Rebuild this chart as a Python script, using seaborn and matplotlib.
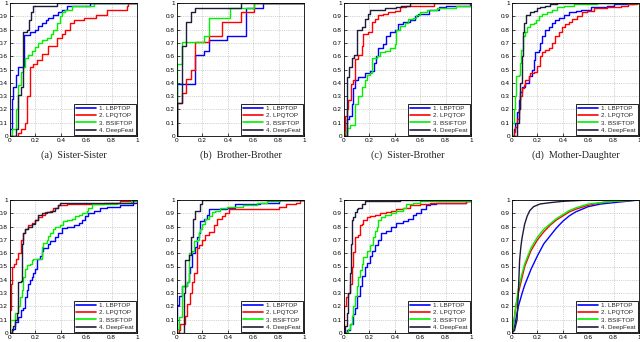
import matplotlib
matplotlib.use("Agg")
import matplotlib.pyplot as plt
import seaborn as sns
from matplotlib.ticker import FuncFormatter

# ---------------- data (FPR, TPR corner points of each ROC curve) ----------------
METHODS = ["1. LBPTOP", "2. LPQTOP", "3. BSIFTOP", "4. DeepFeat"]
COLORS = ["#0000ff", "#ff0000", "#00f000", "#1c1c3c"]
CAPTIONS = ["(a)  Sister-Sister", "(b)  Brother-Brother", "(c)  Sister-Brother", "(d)  Mother-Daughter",
            "", "", "", ""]

# Panel 1
P1_LBP_X = [0, 0, 0.013, 0.026, 0.045, 0.066, 0.11, 0.16, 0.2, 0.22, 0.25, 0.28, 0.30, 0.34, 0.38, 0.41, 0.45, 0.63, 1]
P1_LBP_Y = [0, 0.05, 0.28, 0.37, 0.46, 0.52, 0.76, 0.78, 0.80, 0.83, 0.85, 0.87, 0.89, 0.91, 0.93, 0.95, 0.98, 1.0, 1]
P1_LPQ_X = [0, 0.066, 0.09, 0.12, 0.13, 0.155, 0.18, 0.21, 0.25, 0.30, 0.37, 0.41, 0.43, 0.47, 0.50, 0.58, 0.68, 0.76, 0.92, 0.93, 1]
P1_LPQ_Y = [0, 0.02, 0.05, 0.10, 0.30, 0.52, 0.54, 0.57, 0.62, 0.68, 0.74, 0.77, 0.80, 0.85, 0.87, 0.89, 0.91, 0.95, 0.98, 1.0, 1]
P1_BSIF_X = [0, 0.013, 0.045, 0.066, 0.084, 0.105, 0.118, 0.145, 0.17, 0.2, 0.22, 0.25, 0.29, 0.32, 0.34, 0.37, 0.395, 0.41, 0.43, 0.49, 0.66, 1]
P1_BSIF_Y = [0, 0.05, 0.2, 0.38, 0.48, 0.52, 0.59, 0.61, 0.64, 0.67, 0.70, 0.72, 0.74, 0.77, 0.80, 0.85, 0.90, 0.93, 0.95, 0.98, 1.0, 1]
P1_DEEP_X = [0, 0.05, 0.06, 0.09, 0.105, 0.13, 0.15, 0.165, 0.18, 0.37, 1]
P1_DEEP_Y = [0, 0.05, 0.31, 0.37, 0.78, 0.80, 0.87, 0.93, 0.98, 1.0, 1]

# Panel 2
P2_LBP_X = [0, 0, 0.144, 0.21, 0.25, 0.39, 0.54, 0.68, 1]
P2_LBP_Y = [0, 0.39, 0.61, 0.64, 0.72, 0.75, 0.96, 1.0, 1]
P2_LPQ_X = [0, 0, 0.04, 0.073, 0.11, 0.144, 0.25, 0.353, 0.5, 0.61, 1]
P2_LPQ_Y = [0, 0.25, 0.32, 0.43, 0.5, 0.71, 0.75, 0.86, 0.93, 1.0, 1]
P2_BSIF_X = [0, 0, 0.04, 0.21, 0.25, 0.42, 0.61, 1]
P2_BSIF_Y = [0, 0.54, 0.71, 0.75, 0.89, 0.96, 1.0, 1]
P2_DEEP_X = [0, 0, 0.04, 0.073, 0.11, 0.144, 0.50, 1]
P2_DEEP_Y = [0, 0.25, 0.68, 0.86, 0.93, 0.96, 1.0, 1]

# Panel 3
P3_LBP_X = [0, 0.026, 0.042, 0.06, 0.073, 0.086, 0.112, 0.164, 0.204, 0.235, 0.25, 0.27, 0.31, 0.334, 0.36, 0.40, 0.425, 0.465, 0.52, 0.556, 0.58, 0.67, 0.75, 0.80, 0.99, 1]
P3_LBP_Y = [0, 0.13, 0.15, 0.24, 0.36, 0.42, 0.44, 0.47, 0.49, 0.55, 0.60, 0.66, 0.69, 0.75, 0.78, 0.80, 0.84, 0.86, 0.87, 0.90, 0.92, 0.95, 0.97, 0.98, 0.99, 1]
P3_LPQ_X = [0, 0.008, 0.021, 0.034, 0.052, 0.073, 0.086, 0.11, 0.138, 0.15, 0.19, 0.217, 0.243, 0.27, 0.31, 0.347, 0.40, 0.44, 0.49, 0.71, 1]
P3_LPQ_Y = [0, 0.15, 0.2, 0.27, 0.39, 0.42, 0.58, 0.61, 0.68, 0.77, 0.78, 0.86, 0.88, 0.91, 0.92, 0.93, 0.94, 0.97, 0.98, 1.0, 1]
P3_BSIF_X = [0, 0, 0.021, 0.047, 0.086, 0.112, 0.138, 0.164, 0.178, 0.204, 0.217, 0.256, 0.28, 0.32, 0.36, 0.40, 0.41, 0.44, 0.48, 0.50, 0.54, 0.57, 0.60, 0.65, 0.73, 0.88, 1]
P3_BSIF_Y = [0, 0.03, 0.06, 0.08, 0.24, 0.30, 0.37, 0.42, 0.46, 0.47, 0.59, 0.60, 0.63, 0.64, 0.66, 0.69, 0.80, 0.83, 0.85, 0.88, 0.89, 0.91, 0.93, 0.95, 0.96, 0.98, 1]
P3_DEEP_X = [0, 0.026, 0.042, 0.06, 0.078, 0.104, 0.138, 0.164, 0.19, 0.204, 0.32, 0.41, 0.45, 0.52, 1]
P3_DEEP_Y = [0, 0.44, 0.52, 0.59, 0.61, 0.80, 0.82, 0.88, 0.92, 0.95, 0.96, 0.97, 0.98, 1.0, 1]

# Panel 4
P4_LBP_X = [0, 0.013, 0.026, 0.04, 0.053, 0.066, 0.079, 0.105, 0.13, 0.158, 0.171, 0.184, 0.21, 0.224, 0.237, 0.263, 0.29, 0.316, 0.34, 0.368, 0.41, 0.447, 0.50, 0.54, 0.62, 0.75, 0.80, 0.96, 1]
P4_LBP_Y = [0, 0.05, 0.10, 0.18, 0.27, 0.33, 0.37, 0.40, 0.45, 0.50, 0.57, 0.63, 0.65, 0.70, 0.75, 0.80, 0.82, 0.85, 0.87, 0.89, 0.91, 0.93, 0.94, 0.95, 0.97, 0.98, 0.99, 1.0, 1]
P4_LPQ_X = [0, 0.013, 0.026, 0.04, 0.053, 0.066, 0.079, 0.092, 0.105, 0.13, 0.145, 0.171, 0.197, 0.224, 0.237, 0.263, 0.29, 0.316, 0.34, 0.368, 0.395, 0.42, 0.447, 0.474, 0.513, 0.55, 0.59, 0.645, 0.75, 0.855, 0.91, 0.987, 1]
P4_LPQ_Y = [0, 0.03, 0.07, 0.13, 0.2, 0.3, 0.36, 0.38, 0.42, 0.45, 0.47, 0.48, 0.53, 0.6, 0.63, 0.65, 0.66, 0.70, 0.75, 0.78, 0.82, 0.84, 0.86, 0.88, 0.90, 0.93, 0.94, 0.96, 0.97, 0.98, 0.99, 1.0, 1]
P4_BSIF_X = [0, 0, 0.013, 0.021, 0.032, 0.053, 0.06, 0.071, 0.087, 0.10, 0.118, 0.145, 0.171, 0.192, 0.21, 0.237, 0.276, 0.316, 0.355, 0.41, 0.49, 0.67, 1]
P4_BSIF_Y = [0, 0.1, 0.2, 0.3, 0.45, 0.46, 0.55, 0.65, 0.75, 0.78, 0.82, 0.84, 0.85, 0.87, 0.90, 0.92, 0.93, 0.95, 0.97, 0.98, 0.99, 1.0, 1]
P4_DEEP_X = [0, 0.026, 0.04, 0.053, 0.066, 0.079, 0.087, 0.097, 0.113, 0.145, 0.171, 0.197, 0.224, 0.263, 0.30, 0.355, 1]
P4_DEEP_Y = [0, 0.0, 0.1, 0.2, 0.4, 0.6, 0.78, 0.85, 0.91, 0.93, 0.94, 0.96, 0.97, 0.98, 0.99, 1.0, 1]

# Panel 5
P5_LBP_X = [0, 0.013, 0.04, 0.066, 0.084, 0.105, 0.118, 0.13, 0.145, 0.158, 0.171, 0.184, 0.197, 0.21, 0.237, 0.25, 0.263, 0.30, 0.316, 0.355, 0.38, 0.41, 0.447, 0.50, 0.54, 0.566, 0.59, 0.618, 0.658, 0.71, 0.763, 0.87, 0.97, 1]
P5_LBP_Y = [0, 0.03, 0.08, 0.12, 0.17, 0.19, 0.27, 0.32, 0.37, 0.40, 0.42, 0.45, 0.48, 0.56, 0.58, 0.62, 0.64, 0.67, 0.69, 0.72, 0.75, 0.79, 0.80, 0.81, 0.83, 0.85, 0.88, 0.90, 0.92, 0.94, 0.95, 0.96, 0.98, 1]
P5_LPQ_X = [0, 0, 0.008, 0.018, 0.032, 0.045, 0.066, 0.087, 0.105, 0.118, 0.145, 0.17, 0.197, 0.224, 0.25, 0.276, 0.316, 0.34, 0.38, 0.45, 0.74, 0.87, 1]
P5_LPQ_Y = [0, 0.17, 0.37, 0.50, 0.52, 0.56, 0.60, 0.70, 0.75, 0.78, 0.81, 0.83, 0.85, 0.87, 0.89, 0.91, 0.92, 0.94, 0.96, 0.97, 0.98, 0.99, 1]
P5_BSIF_X = [0, 0, 0.04, 0.066, 0.079, 0.092, 0.105, 0.118, 0.13, 0.158, 0.171, 0.184, 0.25, 0.263, 0.29, 0.30, 0.316, 0.34, 0.355, 0.395, 0.42, 0.447, 0.487, 0.51, 0.54, 0.566, 0.605, 0.618, 0.645, 0.84, 0.95, 1]
P5_BSIF_Y = [0, 0.1, 0.15, 0.2, 0.27, 0.32, 0.42, 0.48, 0.51, 0.52, 0.55, 0.56, 0.65, 0.68, 0.70, 0.73, 0.75, 0.78, 0.80, 0.81, 0.84, 0.85, 0.86, 0.88, 0.89, 0.90, 0.92, 0.94, 0.97, 0.98, 0.99, 1]
P5_DEEP_X = [0, 0.013, 0.026, 0.04, 0.053, 0.066, 0.084, 0.092, 0.105, 0.118, 0.145, 0.17, 0.197, 0.224, 0.25, 0.29, 0.33, 0.355, 0.38, 0.395, 0.97, 1]
P5_DEEP_Y = [0, 0.02, 0.05, 0.10, 0.15, 0.38, 0.39, 0.67, 0.75, 0.78, 0.80, 0.82, 0.85, 0.89, 0.90, 0.91, 0.92, 0.94, 0.96, 0.98, 1.0, 1]

# Panel 6
P6_LBP_X = [0, 0, 0.013, 0.04, 0.078, 0.092, 0.105, 0.118, 0.144, 0.157, 0.17, 0.183, 0.21, 0.235, 0.25, 0.39, 0.46, 0.65, 0.80, 1]
P6_LBP_Y = [0, 0.21, 0.28, 0.35, 0.38, 0.45, 0.50, 0.60, 0.65, 0.72, 0.75, 0.84, 0.86, 0.89, 0.93, 0.94, 0.97, 0.98, 1.0, 1]
P6_LPQ_X = [0, 0.013, 0.026, 0.065, 0.078, 0.105, 0.118, 0.13, 0.157, 0.17, 0.196, 0.22, 0.25, 0.29, 0.314, 0.353, 0.38, 0.41, 0.80, 0.86, 0.94, 0.97, 1]
P6_LPQ_Y = [0, 0.02, 0.07, 0.13, 0.22, 0.30, 0.38, 0.45, 0.64, 0.66, 0.70, 0.74, 0.76, 0.81, 0.86, 0.88, 0.90, 0.93, 0.95, 0.97, 0.98, 1.0, 1]
P6_BSIF_X = [0, 0, 0.013, 0.04, 0.078, 0.092, 0.118, 0.13, 0.157, 0.17, 0.183, 0.196, 0.22, 0.25, 0.275, 0.30, 0.34, 0.39, 0.52, 0.63, 0.71, 0.81, 1]
P6_BSIF_Y = [0, 0.03, 0.12, 0.35, 0.38, 0.60, 0.62, 0.69, 0.70, 0.76, 0.78, 0.82, 0.86, 0.88, 0.91, 0.92, 0.94, 0.95, 0.96, 0.98, 0.99, 1.0, 1]
P6_DEEP_X = [0, 0.052, 0.065, 0.092, 0.11, 0.123, 0.144, 0.178, 0.196, 1]
P6_DEEP_Y = [0, 0.3, 0.55, 0.59, 0.72, 0.86, 0.92, 0.97, 1.0, 1]

# Panel 7
P7_LBP_X = [0, 0.021, 0.047, 0.073, 0.086, 0.104, 0.125, 0.138, 0.164, 0.183, 0.204, 0.217, 0.243, 0.27, 0.295, 0.334, 0.373, 0.41, 0.465, 0.504, 0.543, 0.57, 0.608, 0.648, 0.674, 0.726, 0.96, 1]
P7_LBP_Y = [0, 0.02, 0.07, 0.14, 0.19, 0.28, 0.35, 0.43, 0.50, 0.53, 0.58, 0.62, 0.66, 0.70, 0.75, 0.77, 0.80, 0.83, 0.84, 0.86, 0.89, 0.90, 0.93, 0.96, 0.97, 0.98, 0.99, 1]
P7_LPQ_X = [0, 0, 0.016, 0.034, 0.047, 0.06, 0.073, 0.086, 0.112, 0.125, 0.138, 0.151, 0.178, 0.204, 0.243, 0.28, 0.334, 0.373, 0.41, 0.465, 0.517, 0.595, 0.674, 0.96, 1]
P7_LPQ_Y = [0, 0.20, 0.27, 0.30, 0.37, 0.50, 0.61, 0.72, 0.74, 0.81, 0.82, 0.85, 0.87, 0.88, 0.89, 0.90, 0.91, 0.92, 0.93, 0.94, 0.96, 0.97, 0.98, 0.99, 1]
P7_BSIF_X = [0, 0.016, 0.034, 0.047, 0.06, 0.073, 0.086, 0.10, 0.112, 0.125, 0.138, 0.151, 0.178, 0.204, 0.23, 0.243, 0.256, 0.27, 0.295, 0.32, 0.373, 0.41, 0.465, 0.49, 0.543, 0.595, 1]
P7_BSIF_Y = [0, 0.01, 0.03, 0.07, 0.13, 0.20, 0.28, 0.35, 0.42, 0.47, 0.52, 0.57, 0.62, 0.66, 0.72, 0.77, 0.80, 0.85, 0.87, 0.89, 0.90, 0.92, 0.94, 0.97, 0.98, 0.99, 1]
P7_DEEP_X = [0, 0.008, 0.021, 0.034, 0.047, 0.052, 0.06, 0.073, 0.086, 0.10, 0.112, 0.138, 0.164, 0.44, 1]
P7_DEEP_Y = [0, 0.05, 0.15, 0.30, 0.45, 0.67, 0.85, 0.87, 0.91, 0.93, 0.94, 0.97, 0.99, 1.0, 1]

# Panel 8 (dense curves)
P8_LBP_X = [0, 0.02, 0.05, 0.08, 0.1, 0.15, 0.2, 0.25, 0.3, 0.35, 0.4, 0.45, 0.5, 0.6, 0.7, 0.8, 0.9, 1]
P8_LBP_Y = [0, 0.05, 0.2, 0.3, 0.36, 0.48, 0.58, 0.67, 0.73, 0.79, 0.84, 0.88, 0.91, 0.95, 0.97, 0.98, 0.99, 1]
P8_LPQ_X = [0, 0.01, 0.03, 0.05, 0.08, 0.1, 0.15, 0.2, 0.25, 0.3, 0.35, 0.4, 0.45, 0.5, 0.6, 0.7, 0.8, 1]
P8_LPQ_Y = [0, 0.05, 0.2, 0.3, 0.42, 0.5, 0.62, 0.7, 0.76, 0.81, 0.85, 0.88, 0.91, 0.93, 0.96, 0.98, 0.99, 1]
P8_BSIF_X = [0, 0.01, 0.03, 0.05, 0.08, 0.1, 0.15, 0.2, 0.25, 0.3, 0.35, 0.4, 0.45, 0.5, 0.6, 0.7, 0.8, 1]
P8_BSIF_Y = [0, 0.05, 0.2, 0.33, 0.45, 0.52, 0.64, 0.72, 0.78, 0.82, 0.86, 0.89, 0.92, 0.94, 0.97, 0.98, 0.99, 1]
P8_DEEP_X = [0, 0.02, 0.04, 0.05, 0.06, 0.07, 0.08, 0.1, 0.12, 0.14, 0.17, 0.22, 0.3, 0.4, 0.6, 1]
P8_DEEP_Y = [0, 0.02, 0.1, 0.3, 0.55, 0.65, 0.72, 0.82, 0.88, 0.92, 0.95, 0.97, 0.98, 0.99, 1.0, 1]

PANELS = [
    [(P1_LBP_X, P1_LBP_Y), (P1_LPQ_X, P1_LPQ_Y), (P1_BSIF_X, P1_BSIF_Y), (P1_DEEP_X, P1_DEEP_Y)],
    [(P2_LBP_X, P2_LBP_Y), (P2_LPQ_X, P2_LPQ_Y), (P2_BSIF_X, P2_BSIF_Y), (P2_DEEP_X, P2_DEEP_Y)],
    [(P3_LBP_X, P3_LBP_Y), (P3_LPQ_X, P3_LPQ_Y), (P3_BSIF_X, P3_BSIF_Y), (P3_DEEP_X, P3_DEEP_Y)],
    [(P4_LBP_X, P4_LBP_Y), (P4_LPQ_X, P4_LPQ_Y), (P4_BSIF_X, P4_BSIF_Y), (P4_DEEP_X, P4_DEEP_Y)],
    [(P5_LBP_X, P5_LBP_Y), (P5_LPQ_X, P5_LPQ_Y), (P5_BSIF_X, P5_BSIF_Y), (P5_DEEP_X, P5_DEEP_Y)],
    [(P6_LBP_X, P6_LBP_Y), (P6_LPQ_X, P6_LPQ_Y), (P6_BSIF_X, P6_BSIF_Y), (P6_DEEP_X, P6_DEEP_Y)],
    [(P7_LBP_X, P7_LBP_Y), (P7_LPQ_X, P7_LPQ_Y), (P7_BSIF_X, P7_BSIF_Y), (P7_DEEP_X, P7_DEEP_Y)],
    [(P8_LBP_X, P8_LBP_Y), (P8_LPQ_X, P8_LPQ_Y), (P8_BSIF_X, P8_BSIF_Y), (P8_DEEP_X, P8_DEEP_Y)],
]
STEPPED = [True, True, True, True, True, True, True, False]
X_TICKS = [0, 0.2, 0.4, 0.6, 0.8, 1]
Y_TICKS = [0, 0.1, 0.2, 0.3, 0.4, 0.5, 0.6, 0.7, 0.8, 0.9, 1]

# ---------------- drawing ----------------
sns.set_theme(style="ticks")
plt.rcParams["font.family"] = ["Liberation Sans", "DejaVu Sans"]

fig = plt.figure(figsize=(6.4, 3.42), dpi=100)
lefts = [10, 177, 344, 512]
W, H = 640.0, 342.0
aw = 127 / W
tops_px = [3, 200]
ah = 133 / H

fmt = FuncFormatter(lambda v, p: ("%g" % v))
for i, curves in enumerate(PANELS):
    r, c = divmod(i, 4)
    bottom = 1 - (tops_px[r] + 133) / H
    ax = fig.add_axes([lefts[c] / W, bottom, aw, ah])
    for (xs, ys), name, col in zip(curves, METHODS, COLORS):
        sns.lineplot(x=xs, y=ys, ax=ax, color=col, lw=1.0, estimator=None, sort=False,
                     drawstyle="steps-post" if STEPPED[i] else "default", label=name)
    ax.set_xlim(0, 1)
    ax.set_ylim(0, 1)
    ax.set_xticks(X_TICKS)
    ax.set_yticks(Y_TICKS)
    ax.xaxis.set_major_formatter(fmt)
    ax.yaxis.set_major_formatter(fmt)
    ax.tick_params(direction="in", length=2, width=0.5, labelsize=4.6, pad=1.5, colors="black")
    ax.grid(True, linestyle=":", color="#aaaaaa", linewidth=0.5)
    for s in ax.spines.values():
        s.set_color("black")
        s.set_linewidth(0.6)
    ax.set_xlabel("")
    ax.set_ylabel("")
    leg = ax.legend(loc="lower right", fontsize=4.5, frameon=True, fancybox=False,
                    edgecolor="black", framealpha=1, handlelength=3.2, labelspacing=0.3,
                    borderpad=0.35, handletextpad=0.5, borderaxespad=0.15)
    leg.get_frame().set_linewidth(0.6)
    for ln in leg.get_lines():
        ln.set_linewidth(1.2)
    if CAPTIONS[i]:
        fig.text((lefts[c] + 63.5) / W, 1 - 155 / H, CAPTIONS[i], ha="center", va="center",
                 fontsize=7.3, family=["Liberation Serif", "DejaVu Serif"])

fig.savefig("out.png", dpi=100)
